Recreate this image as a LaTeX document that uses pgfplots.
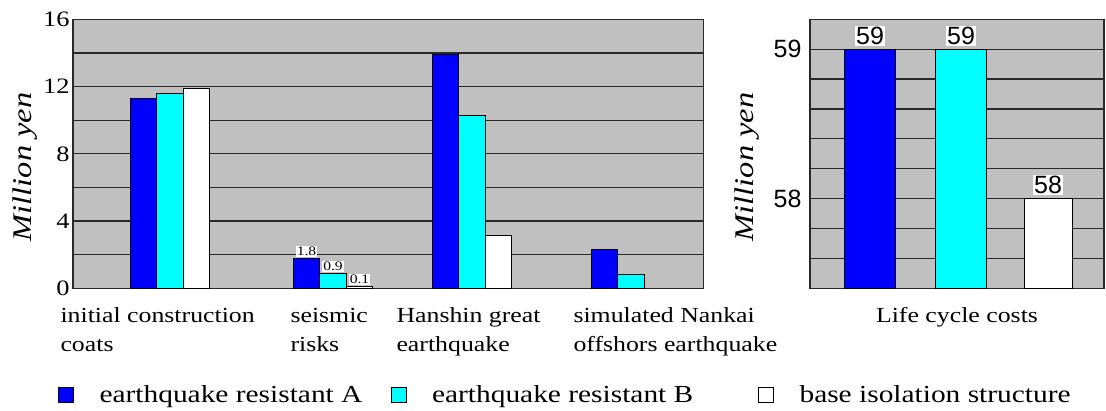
\documentclass[border=0pt]{standalone}
\usepackage{fontspec}
\setmainfont{Liberation Serif}[FakeStretch=1.2]
\newfontfamily\sansf{Liberation Sans}
\usepackage{pgfplots}
\pgfplotsset{compat=1.18}
\definecolor{bg}{RGB}{192,192,192}
\definecolor{gridc}{RGB}{40,40,40}
\definecolor{barA}{RGB}{0,0,255}
\definecolor{barB}{RGB}{0,255,255}
\pgfplotsset{
  commonstyle/.style={
    scale only axis, height=269pt,
    axis background/.style={fill=bg},
    axis line style={gridc, line width=1.4pt},
    ymajorgrids, yminorgrids, xmajorgrids=false,
    major grid style={gridc, line width=1.3pt},
    minor grid style={gridc, line width=1.3pt},
    major tick length=0pt, minor tick length=0pt,
    /pgf/number format/assume math mode=true,
    clip=true,
  },
  bA/.style={ybar, bar width=26.5, bar shift=0, fill=barA, draw=black, line width=1pt},
  bB/.style={ybar, bar width=26.5, bar shift=0, fill=barB, draw=black, line width=1pt},
  bC/.style={ybar, bar width=26.5, bar shift=0, fill=white, draw=black, line width=1pt},
}
\begin{document}
\begin{tikzpicture}
\begin{axis}[commonstyle,
  name=L, at={(0pt,0pt)}, anchor=south west, width=630.7pt,
  xmin=73, xmax=703.7, ymin=0, ymax=16,
  ytick={0,4,8,12,16}, minor ytick={2,6,10,14},
  yticklabel style={font=\fontsize{22}{22}\selectfont},
  xtick={77,307,413,590},
  xticklabels={{initial construction\\coats},{seismic\\risks},{Hanshin great\\earthquake},{simulated Nankai\\offshors earthquake}},
  xticklabel style={anchor=north west, align=left, xshift=-20pt, yshift=-16pt, font=\fontsize{21.5}{29}\selectfont},
  ylabel={Million yen},
  every axis y label/.style={at={(axis description cs:-0.076,0.451)}, rotate=90, anchor=center, font=\fontsize{27}{27}\selectfont\itshape},
  legend columns=3,
  legend style={at={(rel axis cs:-0.024,-0.397)}, anchor=west, draw=none, fill=none, inner xsep=0pt, font=\fontsize{24.5}{24.5}\selectfont},
  legend cell align=left,
  legend image code/.code={\draw[#1,draw=black,line width=1pt] (0pt,-7.5pt) rectangle (15pt,7.5pt); \path[draw=none,fill=none] (0pt,0pt) -- (39pt,0pt);},
]
\addplot[bA] coordinates {(143.5,11.3) (445.5,13.9) (604.5,2.3)};
\addlegendentry{\makebox[289pt][l]{earthquake resistant A}}
\addplot[bB] coordinates {(170,11.6) (472,10.3) (631,0.85)};
\addlegendentry{\makebox[324pt][l]{earthquake resistant B}}
\addplot[bC] coordinates {(196.5,11.9) (498.5,3.13)};
\addlegendentry{base isolation structure}
% seismic risks group, with value labels
\pgfplotsset{every node near coord/.append style={fill=white, inner sep=1pt, font=\fontsize{13}{13}\selectfont, anchor=south, yshift=1pt}}
\addplot[bA, forget plot, nodes near coords, point meta=explicit symbolic] coordinates {(306.5,1.8)[1.8]};
\addplot[bB, forget plot, nodes near coords, point meta=explicit symbolic] coordinates {(333,0.9)[0.9]};
\addplot[bC, forget plot, nodes near coords, point meta=explicit symbolic] coordinates {(359.5,0.1)[0.1]};
\coordinate (LO) at (rel axis cs:0,0);
\end{axis}
\begin{axis}[commonstyle,
  at={(LO)}, anchor=south west, xshift=737pt, width=294pt,
  xmin=810, xmax=1104, ymin=57.4, ymax=59.2,
  ytick={58,59}, minor ytick={57.6,57.8,58.2,58.4,58.6,58.8},
  yticklabel style={font=\sansf\fontsize{25}{25}\selectfont, xshift=-5pt},
  xtick={957}, xticklabels={Life cycle costs},
  xticklabel style={anchor=north, yshift=-16pt, font=\fontsize{21.5}{29}\selectfont},
  ylabel={Million yen},
  every axis y label/.style={at={(axis description cs:-0.214,0.451)}, rotate=90, anchor=center, font=\fontsize{27}{27}\selectfont\itshape},
  nodes near coords, point meta=explicit symbolic,
  every node near coord/.append style={fill=white, inner sep=1pt, font=\sansf\fontsize{25}{25}\selectfont, anchor=south, yshift=3pt},
]
\addplot[ybar, bar width=51, bar shift=0, fill=barA, draw=black, line width=1pt] coordinates {(870,59)[59]};
\addplot[ybar, bar width=51, bar shift=0, fill=barB, draw=black, line width=1pt] coordinates {(961,59)[59]};
\addplot[ybar, bar width=48, bar shift=0, fill=white, draw=black, line width=1pt] coordinates {(1048,58)[58]};
\end{axis}
\pgfresetboundingbox
\path[use as bounding box] ([shift={(-73pt,-122.7pt)}]LO) rectangle ([shift={(1033pt,288.3pt)}]LO);
\end{tikzpicture}
\end{document}
